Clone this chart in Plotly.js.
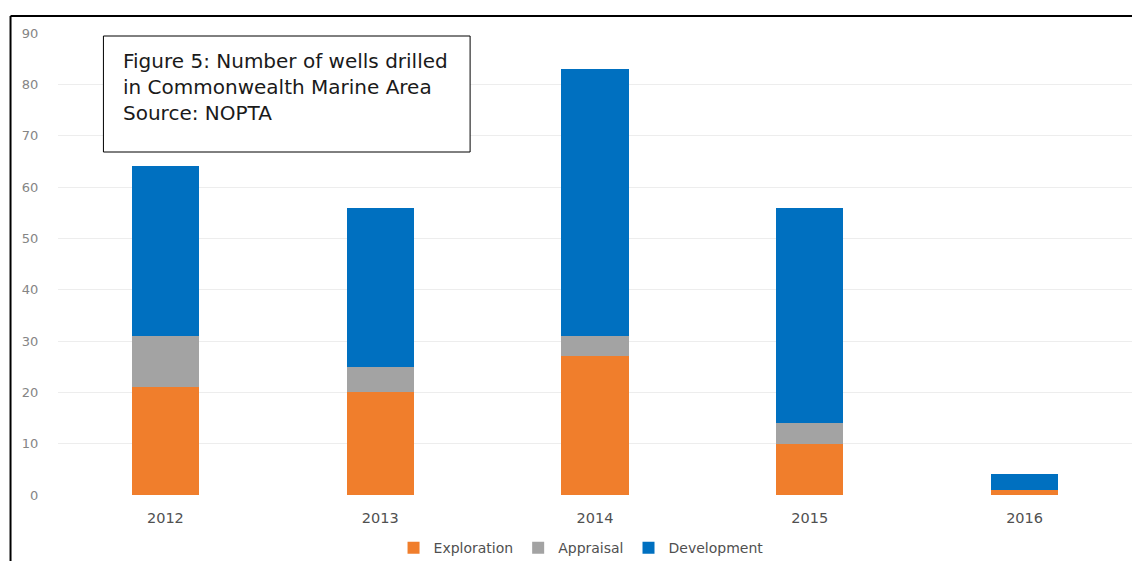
<!DOCTYPE html>
<html>
<head>
<meta charset="utf-8">
<script src="https://cdn.plot.ly/plotly-3.0.1.min.js"></script>
<style>html,body{margin:0;padding:0;background:#fff;}#chart{width:1132px;height:561px;}</style>
</head>
<body>
<div id="chart"></div>
<script>
const years = ['2012', '2013', '2014', '2015', '2016'];
const exploration = [21, 20, 27, 10, 1];
const appraisal = [10, 5, 4, 4, 0];
const development = [33, 31, 52, 42, 3];
const yTicks = [0, 10, 20, 30, 40, 50, 60, 70, 80, 90];
const boxText = 'Figure 5: Number of wells drilled<br>in Commonwealth Marine Area<br>Source: NOPTA';

const traces = [
  {type: 'bar', name: 'Exploration', x: years, y: exploration, marker: {color: '#F07E2C'}},
  {type: 'bar', name: 'Appraisal', x: years, y: appraisal, marker: {color: '#A3A3A3'}},
  {type: 'bar', name: 'Development', x: years, y: development, marker: {color: '#0070C0'}}
];

const layout = {
  width: 1132, height: 561,
  margin: {l: 57.5, r: 0, t: 32.5, b: 66, autoexpand: false},
  paper_bgcolor: '#fff', plot_bgcolor: '#fff',
  barmode: 'stack', bargap: 0.688,
  font: {family: 'DejaVu Sans, sans-serif', color: '#595959'},
  xaxis: {
    type: 'category', showgrid: false, zeroline: false, showline: false, automargin: false,
    ticks: 'outside', ticklen: 10, tickcolor: 'rgba(0,0,0,0)',
    tickfont: {size: 14.5, color: '#505050'}
  },
  yaxis: {
    range: [0, 90], tickvals: yTicks, showgrid: true, gridcolor: '#EDEDED', gridwidth: 1,
    zeroline: false, showline: false, automargin: false,
    ticks: 'outside', ticklen: 16, tickcolor: 'rgba(0,0,0,0)',
    tickfont: {size: 13, color: '#858585'}
  },
  showlegend: true,
  legend: {orientation: 'h', x: 0.487, xanchor: 'center', y: -0.115, yanchor: 'middle',
    font: {size: 14, color: '#505050'}, traceorder: 'normal', itemwidth: 30},
  shapes: [
    {type: 'line', xref: 'paper', yref: 'paper', x0: -0.0442, x1: 1.01, y0: 1.0368, y1: 1.0368, line: {color: '#000', width: 2}},
    {type: 'line', xref: 'paper', yref: 'paper', x0: -0.0442, x1: -0.0442, y0: 1.0368, y1: -0.2, line: {color: '#000', width: 2}},
    {type: 'rect', xref: 'paper', yref: 'paper', x0: 0.0423, x1: 0.3837, y0: 0.9935, y1: 0.7424, line: {color: '#000', width: 1}, fillcolor: '#fff'}
  ],
  annotations: [
    {xref: 'paper', yref: 'paper', x: 0.0585, y: 0.97, xanchor: 'left', yanchor: 'top', align: 'left',
     showarrow: false, text: boxText,
     font: {family: 'DejaVu Sans, sans-serif', size: 20, color: '#1a1a1a'}}
  ]
};

Plotly.newPlot('chart', traces, layout, {displayModeBar: false, staticPlot: true});
</script>
</body>
</html>
